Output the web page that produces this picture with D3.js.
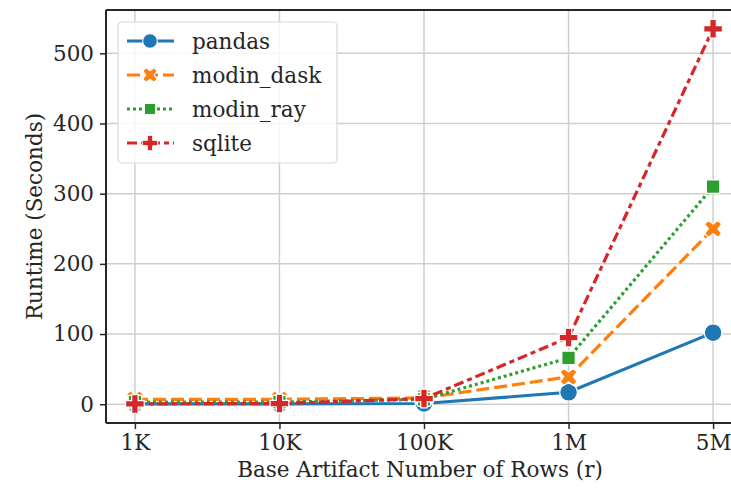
<!DOCTYPE html>
<html>
<head>
<meta charset="utf-8">
<script src="https://cdn.jsdelivr.net/npm/d3@7"></script>
<style>
  body { margin: 0; background: #fff; }
  svg text { font-family: "DejaVu Serif", serif; fill: #262626; }
</style>
</head>
<body>
<div id="chart"></div>
<script>
const categories = ["1K", "10K", "100K", "1M", "5M"];
const seriesNames = ["pandas", "modin_dask", "modin_ray", "sqlite"];
const pandas = [0.5, 0.5, 1, 17, 102];
const modinDask = [7, 7, 9, 39, 250];
const modinRay = [3, 3, 7, 66, 310];
const sqlite = [0.5, 1, 8, 95, 535];
const yTicks = [0, 100, 200, 300, 400, 500];

const colors = ["#1f77b4", "#ff7f0e", "#2ca02c", "#d62728"];
const dashes = ["", "13,5", "3,3", "10,4,5,4"];
const symbols = [d3.symbolCircle, "X", d3.symbolSquare, "P"];
const fontSize = "21.5px";

const series = seriesNames.map(function(name, i) {
    return { name: name, values: [pandas, modinDask, modinRay, sqlite][i], idx: i };
});

const width = 731, height = 488;
const margin = { left: 106, top: 10, bottom: 65 };
const plotBottom = height - margin.bottom;

const svg = d3.select("#chart").append("svg")
    .attr("width", width)
    .attr("height", height);

// categorical positions with matplotlib-like margins
const scaleX = d3.scaleLinear()
    .domain([-0.2, 4.2])
    .range([margin.left, 742]);

const scaleY = d3.scaleLinear()
    .domain([-26.75, 561.75])
    .range([plotBottom, margin.top]);

// grid
const grid = svg.append("g").attr("class", "grid");
grid.selectAll("line.gy")
    .data(yTicks).enter()
    .append("line")
    .attr("x1", margin.left).attr("x2", width)
    .attr("y1", function(d) { return scaleY(d); })
    .attr("y2", function(d) { return scaleY(d); })
    .attr("stroke", "#cfcfcf").attr("stroke-width", 1.5);
grid.selectAll("line.gx")
    .data(categories).enter()
    .append("line")
    .attr("x1", function(d, i) { return scaleX(i); })
    .attr("x2", function(d, i) { return scaleX(i); })
    .attr("y1", margin.top).attr("y2", plotBottom)
    .attr("stroke", "#cfcfcf").attr("stroke-width", 1.5);

// axes
const xAxis = d3.axisBottom(scaleX)
    .tickValues(d3.range(categories.length))
    .tickFormat(function(i) { return categories[i]; })
    .tickSize(6).tickPadding(6);
const yAxis = d3.axisLeft(scaleY)
    .tickValues(yTicks)
    .tickSize(6).tickPadding(6);

const gx = svg.append("g")
    .attr("transform", `translate(0,${plotBottom})`)
    .call(xAxis);
const gy = svg.append("g")
    .attr("transform", `translate(${margin.left},0)`)
    .call(yAxis);

[gx, gy].forEach(function(g) {
    g.select(".domain").remove();
    g.selectAll(".tick line").attr("stroke", "#262626").attr("stroke-width", 1.5);
    g.selectAll(".tick text")
        .style("font-family", "DejaVu Serif, serif")
        .style("font-size", fontSize)
        .attr("fill", "#262626");
});

// spines
svg.append("line")
    .attr("x1", margin.left).attr("x2", margin.left)
    .attr("y1", margin.top).attr("y2", plotBottom)
    .attr("stroke", "#262626").attr("stroke-width", 2);
svg.append("line")
    .attr("x1", margin.left).attr("x2", width)
    .attr("y1", plotBottom).attr("y2", plotBottom)
    .attr("stroke", "#262626").attr("stroke-width", 2);
svg.append("line")
    .attr("x1", margin.left).attr("x2", width)
    .attr("y1", margin.top).attr("y2", margin.top)
    .attr("stroke", "#262626").attr("stroke-width", 2);

// marker shapes
function markerPath(sym, size) {
    const s = size;
    if (sym === "X") {
        const a = s * 0.5, b = s * 0.22;
        return `M${-a},${-a + b} L${-a + b},${-a} L0,${-b * 1.3} L${a - b},${-a} L${a},${-a + b} L${b * 1.3},0 ` +
            `L${a},${a - b} L${a - b},${a} L0,${b * 1.3} L${-a + b},${a} L${-a},${a - b} L${-b * 1.3},0 Z`;
    }
    if (sym === "P") {
        const a = s * 0.55, b = s * 0.19;
        return `M${-b},${-a} H${b} V${-b} H${a} V${b} H${b} V${a} H${-b} V${b} H${-a} V${-b} H${-b} Z`;
    }
    if (sym === d3.symbolCircle) return d3.symbol(sym, s * s * 0.85)();
    return d3.symbol(sym, s * s * 0.62)();
}

const line = d3.line()
    .x(function(d, i) { return scaleX(i); })
    .y(function(d) { return scaleY(d); });

const plot = svg.append("g");
const groups = plot.selectAll("g.series")
    .data(series).enter()
    .append("g").attr("class", "series");

groups.append("path")
    .attr("d", function(d) { return line(d.values); })
    .attr("fill", "none")
    .attr("stroke", function(d) { return colors[d.idx]; })
    .attr("stroke-width", 3.2)
    .attr("stroke-dasharray", function(d) { return dashes[d.idx]; });

groups.selectAll("path.mk")
    .data(function(d) { return d.values.map(function(v, i) { return { v: v, i: i, s: d.idx }; }); })
    .enter().append("path")
    .attr("class", "mk")
    .attr("transform", function(d) { return `translate(${scaleX(d.i)},${scaleY(d.v)})`; })
    .attr("d", function(d) { return markerPath(symbols[d.s], 17); })
    .attr("fill", function(d) { return colors[d.s]; })
    .attr("stroke", "#fff")
    .attr("stroke-width", 1.2);

// axis labels
svg.append("text")
    .attr("x", 420).attr("y", 477)
    .attr("text-anchor", "middle")
    .style("font-size", fontSize)
    .text("Base Artifact Number of Rows (r)");
svg.append("text")
    .attr("transform", `translate(42,${(margin.top + plotBottom) / 2}) rotate(-90)`)
    .attr("text-anchor", "middle")
    .style("font-size", fontSize)
    .text("Runtime (Seconds)");

// legend
const legend = svg.append("g").attr("transform", "translate(118,22)");
legend.append("rect")
    .attr("width", 219).attr("height", 141)
    .attr("rx", 4)
    .attr("fill", "#fff").attr("fill-opacity", 0.8)
    .attr("stroke", "#d9d9d9").attr("stroke-width", 1.2);
const items = legend.selectAll("g.item")
    .data(series).enter()
    .append("g")
    .attr("transform", function(d, i) { return `translate(0,${19 + i * 34})`; });
items.append("line")
    .attr("x1", 9).attr("x2", 56)
    .attr("stroke", function(d) { return colors[d.idx]; })
    .attr("stroke-width", 3)
    .attr("stroke-dasharray", function(d) { return dashes[d.idx]; });
items.append("path")
    .attr("transform", "translate(32,0)")
    .attr("d", function(d) { return markerPath(symbols[d.idx], 14); })
    .attr("fill", function(d) { return colors[d.idx]; })
    .attr("stroke", "#fff").attr("stroke-width", 1);
items.append("text")
    .attr("x", 74).attr("dy", "0.35em")
    .style("font-size", fontSize)
    .text(function(d) { return d.name; });
</script>
</body>
</html>
